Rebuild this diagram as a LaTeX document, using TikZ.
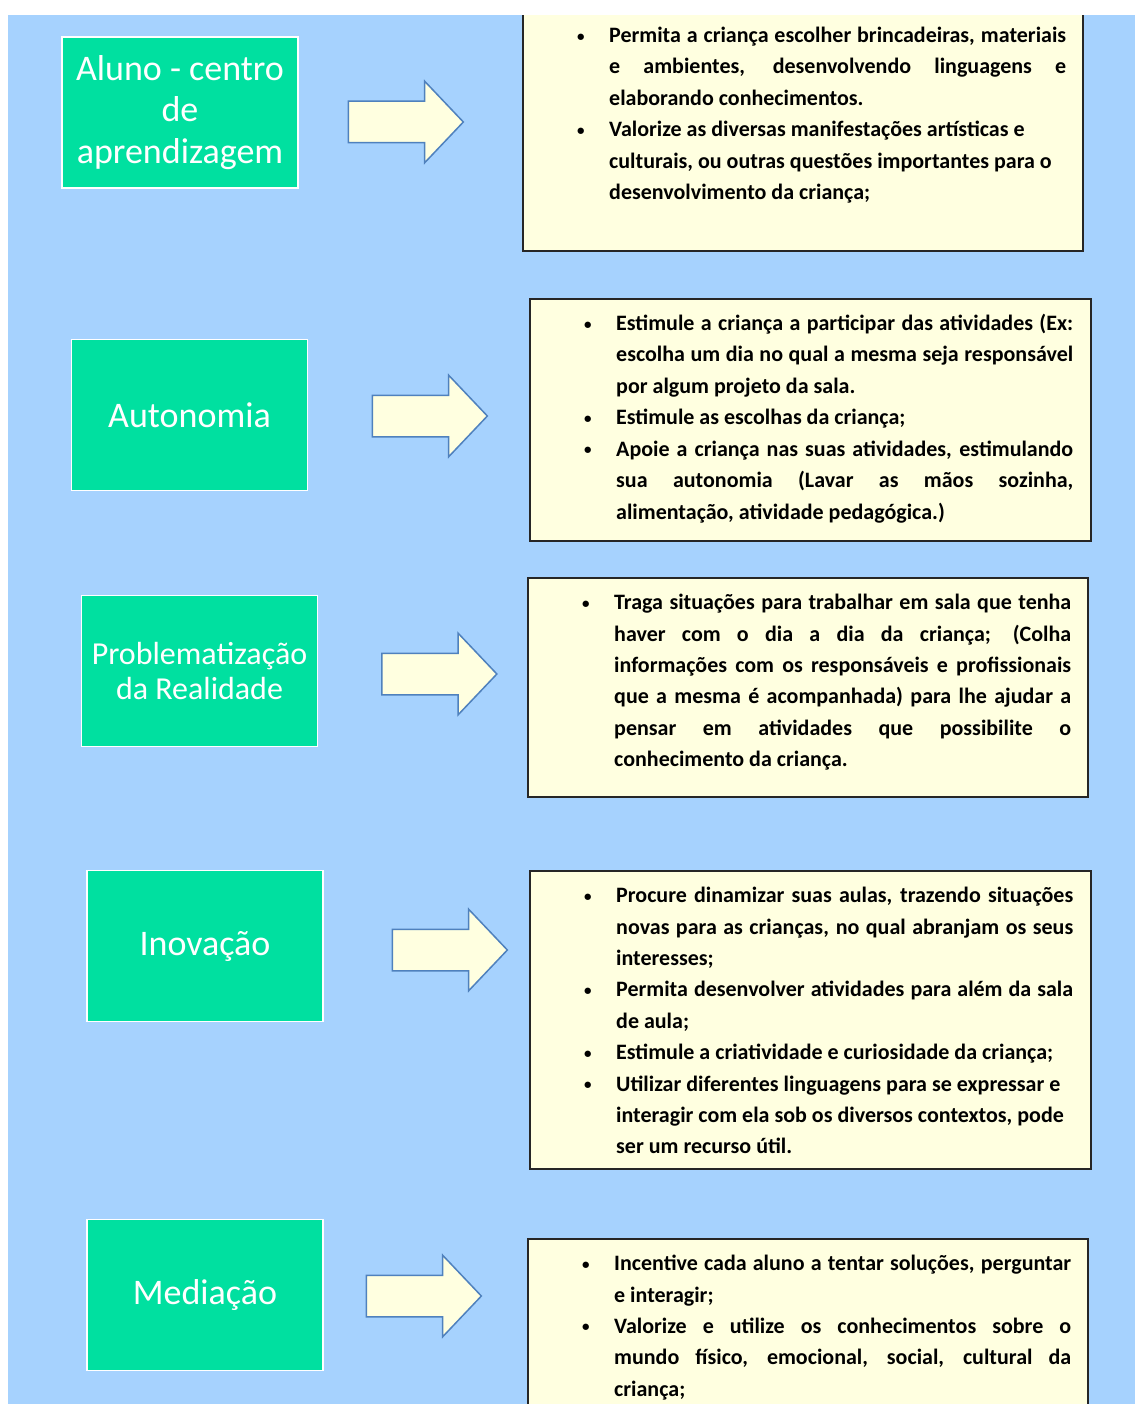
\documentclass[tikz,border=0pt]{standalone}
\usepackage{fontspec}
\setmainfont{Carlito}
\usetikzlibrary{positioning, shapes.arrows}
\definecolor{bgblue}{HTML}{A6D2FE}
\definecolor{topicgreen}{HTML}{00E0A0}
\definecolor{notefill}{HTML}{FFFFE0}
\definecolor{arrowedge}{HTML}{4F81BD}
\hyphenpenalty=10000
\tolerance=9999
% bullet with hanging indent
\newcommand{\blt}{\par\noindent\hangindent=32pt\hangafter=1%
  \makebox[32pt][l]{\raisebox{1.5pt}{\fontsize{15}{15}\selectfont\textbullet}}}

\begin{document}
\begin{tikzpicture}[x=1pt, y=-1pt,
      topic/.style={draw=white, line width=1.5pt, fill=topicgreen, text=white, minimum width=236pt,
                    minimum height=151pt, align=center, inner sep=0pt, font=\fontsize{36}{41.5}\selectfont},
      blockarr/.style={single arrow, draw=arrowedge, line width=1.5pt, fill=notefill, inner xsep=0pt,
                       inner ysep=20pt, single arrow head extend=20pt, single arrow tip angle=93,
                       minimum height=115pt},
      note/.style={draw=black!85, line width=2pt, fill=notefill, anchor=north west, inner sep=0pt},
      notetext/.style={inner sep=0pt, text width=489pt, align=justify, anchor=north west,
                       font=\bfseries\fontsize{22}{31.4}\selectfont}
    ]
    \useasboundingbox (0,0) rectangle (1135,1404);
    \fill[white] (0,0) rectangle (1135,1404);
    \fill[bgblue] (8,15) rectangle (1135,1404);

    % topics
    \node[topic] (alu) at (180,112.5) {Aluno - centro\\de\\aprendizagem};
    \node[topic] (aut) at (189.5,415) {Autonomia};
    \node[topic, font=\fontsize{32}{35}\selectfont] (pro) at (199.5,671) {Problematização\\da Realidade};
    \node[topic] (ino) at (205,946) {Inovação};
    \node[topic] (med) at (205,1295) {Mediação};

    % arrows
    \node[blockarr] (arr1) at (396,122) {};
    \node[blockarr] (arr2) at (420,416) {};
    \node[blockarr] (arr3) at (429.5,674) {};
    \node[blockarr] (arr4) at (440,950) {};
    \node[blockarr] (arr5) at (414,1296) {};

    % notes
    \node[note, minimum width=560pt, minimum height=240pt] (obs1) at (522,10) {};
    \node[note, minimum width=561pt, minimum height=242pt] (obs2) at (529,298) {};
    \node[note, minimum width=560pt, minimum height=219pt] (obs3) at (527,577) {};
    \node[note, minimum width=561pt, minimum height=298pt] (obs4) at (529,870) {};
    \node[note, minimum width=560pt, minimum height=200pt] (obs5) at (527,1238) {};

    \node[notetext, below right=1pt and 55pt of obs1.north west] (txt1) {%
      \blt Permita a criança escolher brincadeiras, materiais\linebreak e ambientes, desenvolvendo linguagens e\linebreak elaborando conhecimentos.
      \blt Valorize as diversas manifestações artísticas e\\ culturais, ou outras questões importantes para o\\ desenvolvimento da criança;\par};
    \node[notetext, below right=1pt and 55pt of obs2.north west] (txt2) {%
      \blt Estimule a criança a participar das atividades (Ex:\linebreak escolha um dia no qual a mesma seja responsável\linebreak por algum projeto da sala.
      \blt Estimule as escolhas da criança;
      \blt Apoie a criança nas suas atividades, estimulando\linebreak sua autonomia (Lavar as mãos sozinha,\linebreak alimentação, atividade pedagógica.)\par};
    \node[notetext, below right=1pt and 55pt of obs3.north west] (txt3) {%
      \blt Traga situações para trabalhar em sala que tenha\linebreak haver com o dia a dia da criança; (Colha\linebreak informações com os responsáveis e profissionais\linebreak que a mesma é acompanhada) para lhe ajudar a\linebreak pensar em atividades que possibilite o\linebreak conhecimento da criança.\par};
    \node[notetext, below right=1pt and 55pt of obs4.north west] (txt4) {%
      \blt Procure dinamizar suas aulas, trazendo situações\linebreak novas para as crianças, no qual abranjam os seus\linebreak interesses;
      \blt Permita desenvolver atividades para além da sala\linebreak de aula;
      \blt Estimule a criatividade e curiosidade da criança;
      \blt Utilizar diferentes linguagens para se expressar e\\ interagir com ela sob os diversos contextos, pode\\ ser um recurso útil.\par};
    \node[notetext, below right=1pt and 55pt of obs5.north west] (txt5) {%
      \blt Incentive cada aluno a tentar soluções, perguntar\linebreak e interagir;
      \blt Valorize e utilize os conhecimentos sobre o\linebreak mundo físico, emocional, social, cultural da\linebreak criança;\par};

    \fill[white] (0,0) rectangle (1135,15);
\end{tikzpicture}
\end{document}
